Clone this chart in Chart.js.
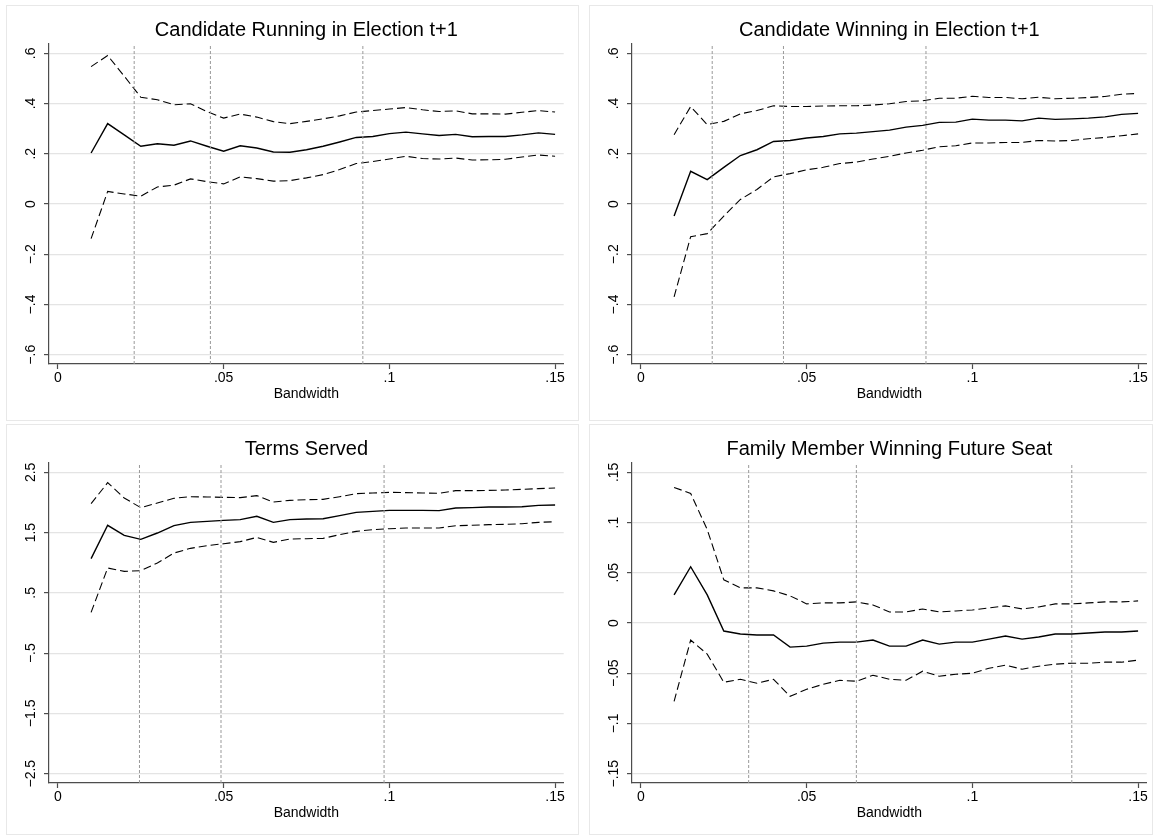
<!DOCTYPE html>
<html>
<head>
<meta charset="utf-8">
<script src="https://cdn.jsdelivr.net/npm/chart.js@4.4.1/dist/chart.umd.min.js"></script>
<style>
  body { margin: 0; background: #fff; width: 1156px; height: 836px; position: relative; overflow: hidden; }
  .panel { position: absolute; box-shadow: inset 0 0 0 1px #e8e8e8; }
  .panel canvas { position: absolute; left: 0; top: 0; }
</style>
</head>
<body>
<div class="panel" style="left:6px;top:5px;width:573px;height:416px"><canvas id="c1" width="573" height="416"></canvas></div>
<div class="panel" style="left:589px;top:5px;width:564px;height:416px"><canvas id="c2" width="564" height="416"></canvas></div>
<div class="panel" style="left:6px;top:424px;width:573px;height:411px"><canvas id="c3" width="573" height="411"></canvas></div>
<div class="panel" style="left:589px;top:424px;width:564px;height:411px"><canvas id="c4" width="564" height="411"></canvas></div>
<script>
// bandwidths used for the estimates
const bandwidth = [0.01, 0.015, 0.02, 0.025, 0.03, 0.035, 0.04, 0.045, 0.05, 0.055, 0.06, 0.065, 0.07, 0.075, 0.08,
  0.085, 0.09, 0.095, 0.1, 0.105, 0.11, 0.115, 0.12, 0.125, 0.13, 0.135, 0.14, 0.145, 0.15];

const xTicks = [0, 0.05, 0.1, 0.15];
const xLabels = ['0', '.05', '.1', '.15'];

// Candidate Running in Election t+1
const runEst = [0.203, 0.320, 0.275, 0.230, 0.240, 0.234, 0.251, 0.230, 0.210, 0.232, 0.223, 0.207, 0.206, 0.216, 0.230,
  0.247, 0.265, 0.269, 0.280, 0.286, 0.279, 0.273, 0.277, 0.268, 0.269, 0.269, 0.275, 0.283, 0.277];
const runHi = [0.547, 0.591, 0.509, 0.425, 0.415, 0.395, 0.399, 0.368, 0.342, 0.358, 0.346, 0.328, 0.320, 0.329, 0.339,
  0.351, 0.366, 0.372, 0.378, 0.384, 0.375, 0.368, 0.371, 0.359, 0.359, 0.358, 0.365, 0.372, 0.366];
const runLo = [-0.138, 0.050, 0.040, 0.031, 0.068, 0.075, 0.100, 0.089, 0.080, 0.108, 0.101, 0.091, 0.093, 0.104, 0.117,
  0.137, 0.161, 0.169, 0.179, 0.190, 0.181, 0.179, 0.183, 0.175, 0.176, 0.178, 0.187, 0.195, 0.190];
const runBw = [0.023, 0.046, 0.092];

// Candidate Winning in Election t+1
const winEst = [-0.048, 0.130, 0.097, 0.146, 0.193, 0.216, 0.249, 0.253, 0.263, 0.269, 0.279, 0.282, 0.288, 0.294, 0.306,
  0.313, 0.325, 0.326, 0.338, 0.334, 0.334, 0.331, 0.342, 0.337, 0.339, 0.342, 0.347, 0.357, 0.361];
const winHi = [0.276, 0.388, 0.316, 0.329, 0.359, 0.372, 0.391, 0.388, 0.388, 0.390, 0.391, 0.391, 0.394, 0.399, 0.408,
  0.411, 0.421, 0.421, 0.429, 0.424, 0.424, 0.419, 0.425, 0.419, 0.421, 0.424, 0.428, 0.437, 0.440];
const winLo = [-0.370, -0.130, -0.118, -0.048, 0.018, 0.058, 0.108, 0.121, 0.136, 0.146, 0.161, 0.167, 0.179, 0.190, 0.203,
  0.214, 0.228, 0.232, 0.243, 0.243, 0.245, 0.245, 0.253, 0.251, 0.253, 0.260, 0.265, 0.272, 0.279];
const winBw = [0.0215, 0.043, 0.086];

// Terms Served
const termsEst = [1.068, 1.621, 1.455, 1.388, 1.493, 1.615, 1.670, 1.687, 1.703, 1.715, 1.770, 1.670, 1.715, 1.726, 1.731,
  1.781, 1.836, 1.853, 1.869, 1.869, 1.869, 1.864, 1.908, 1.914, 1.925, 1.925, 1.930, 1.952, 1.958];
const termsHi = [1.980, 2.329, 2.074, 1.914, 1.991, 2.069, 2.096, 2.091, 2.085, 2.080, 2.113, 2.008, 2.035, 2.046, 2.052,
  2.096, 2.146, 2.157, 2.168, 2.163, 2.157, 2.152, 2.196, 2.196, 2.200, 2.207, 2.218, 2.229, 2.240];
const termsLo = [0.177, 0.913, 0.857, 0.868, 0.996, 1.161, 1.239, 1.283, 1.316, 1.350, 1.421, 1.338, 1.394, 1.399, 1.405,
  1.466, 1.521, 1.549, 1.565, 1.576, 1.576, 1.576, 1.615, 1.621, 1.632, 1.637, 1.648, 1.670, 1.681];
const termsBw = [0.0246, 0.0492, 0.0984];

// Family Member Winning Future Seat
const famEst = [0.028, 0.056, 0.028, -0.008, -0.011, -0.012, -0.012, -0.024, -0.023, -0.020, -0.019, -0.019, -0.017, -0.023, -0.023,
  -0.017, -0.021, -0.019, -0.019, -0.016, -0.013, -0.016, -0.014, -0.011, -0.011, -0.010, -0.009, -0.009, -0.008];
const famHi = [0.135, 0.129, 0.093, 0.043, 0.035, 0.035, 0.032, 0.027, 0.019, 0.020, 0.020, 0.021, 0.018, 0.011, 0.011,
  0.014, 0.011, 0.012, 0.013, 0.015, 0.017, 0.014, 0.016, 0.019, 0.019, 0.020, 0.021, 0.021, 0.022];
const famLo = [-0.078, -0.017, -0.031, -0.059, -0.056, -0.060, -0.056, -0.073, -0.066, -0.061, -0.057, -0.058, -0.052, -0.056, -0.057,
  -0.048, -0.053, -0.051, -0.050, -0.045, -0.042, -0.046, -0.043, -0.041, -0.040, -0.040, -0.039, -0.039, -0.037];
const famBw = [0.0325, 0.065, 0.13];

const shareTicks = [-0.6, -0.4, -0.2, 0, 0.2, 0.4, 0.6];
const shareLabels = ['\u2212.6', '\u2212.4', '\u2212.2', '0', '.2', '.4', '.6'];
const termsTicks = [-2.5, -1.5, -0.5, 0.5, 1.5, 2.5];
const termsLabels = ['\u22122.5', '\u22121.5', '\u2212.5', '.5', '1.5', '2.5'];
const famTicks = [-0.15, -0.1, -0.05, 0, 0.05, 0.1, 0.15];
const famLabels = ['\u2212.15', '\u2212.1', '\u2212.05', '0', '.05', '.1', '.15'];

const FONT = '"Liberation Sans", Arial, Helvetica, sans-serif';
const AXIS = '#4d4d4d';
const GRID = '#e4e4e4';
const X_MIN = -0.0027;
const X_MAX = 0.1526;

Chart.defaults.font.family = FONT;
Chart.defaults.color = '#000';
Chart.defaults.animation = false;

const measure = document.createElement('canvas').getContext('2d');
measure.font = '14px ' + FONT;

function pts(vals) {
  return bandwidth.map((b, i) => ({ x: b, y: vals[i] }));
}

function lineSet(vals, opts = {}) {
  return {
    data: pts(vals),
    borderColor: '#000',
    borderWidth: opts.width ?? 1.3,
    borderDash: opts.dash ?? [],
    pointRadius: 0,
    tension: 0,
  };
}

function makePanel(id, title, est, hi, lo, bws, yLim, yTicks, yLabels) {
  const canvas = document.getElementById(id);
  const W = canvas.width, H = canvas.height;
  const widest = Math.max(...yLabels.map((l) => measure.measureText(l).width));
  const yPad = 43 - 25 - 5 - widest / 2;

  const vlines = bws.map((v) => ({
    data: [{ x: v, y: -yLim }, { x: v, y: yLim }],
    borderColor: '#999',
    borderWidth: 1,
    borderDash: [3, 2],
    pointRadius: 0,
  }));

  new Chart(canvas.getContext('2d'), {
    type: 'line',
    data: {
      datasets: [
        ...vlines,
        lineSet(hi, { width: 1.1, dash: [8, 4] }),
        lineSet(lo, { width: 1.1, dash: [8, 4] }),
        lineSet(est, { width: 1.4 }),
      ],
    },
    options: {
      responsive: false,
      layout: { padding: { left: 0, top: 0, right: W - 557.7, bottom: H - 359 - 38.7 } },
      plugins: {
        legend: { display: false },
        tooltip: { enabled: false },
        title: {
          display: true, text: title, fullSize: false, color: '#000',
          font: { size: 20, weight: 'normal' }, padding: { top: 13, bottom: 2 },
        },
      },
      scales: {
        x: {
          type: 'linear', min: X_MIN, max: X_MAX,
          afterBuildTicks: (s) => { s.ticks = xTicks.map((v) => ({ value: v })); },
          afterFit: (s) => { s.height = 38.7; s.paddingLeft = 0; s.paddingRight = 0; },
          ticks: { callback: (v, i) => xLabels[i], font: { size: 14 }, padding: 1, maxRotation: 0, autoSkip: false, color: '#000' },
          grid: { drawOnChartArea: false, tickLength: 5, tickColor: AXIS, tickWidth: 1.2 },
          border: { color: AXIS, width: 1.2 },
          title: { display: true, text: 'Bandwidth', font: { size: 14 }, padding: 0, color: '#000' },
        },
        y: {
          min: -yLim, max: yLim,
          afterBuildTicks: (s) => { s.ticks = yTicks.map((v) => ({ value: v })); },
          afterFit: (s) => { s.width = 43; s.paddingTop = 0; s.paddingBottom = 0; },
          ticks: {
            callback: (v, i) => yLabels[i], font: { size: 14 }, minRotation: 90, maxRotation: 90,
            crossAlign: 'center', padding: yPad, autoSkip: false, color: '#000',
          },
          grid: { color: GRID, lineWidth: 1.2, tickLength: 5, tickColor: AXIS, tickWidth: 1.2 },
          border: { color: AXIS, width: 1.2 },
        },
      },
    },
  });
}

makePanel('c1', 'Candidate Running in Election t+1', runEst, runHi, runLo, runBw, 0.637, shareTicks, shareLabels);
makePanel('c2', 'Candidate Winning in Election t+1', winEst, winHi, winLo, winBw, 0.637, shareTicks, shareLabels);
makePanel('c3', 'Terms Served', termsEst, termsHi, termsLo, termsBw, 2.655, termsTicks, termsLabels);
makePanel('c4', 'Family Member Winning Future Seat', famEst, famHi, famLo, famBw, 0.1593, famTicks, famLabels);
</script>
</body>
</html>
